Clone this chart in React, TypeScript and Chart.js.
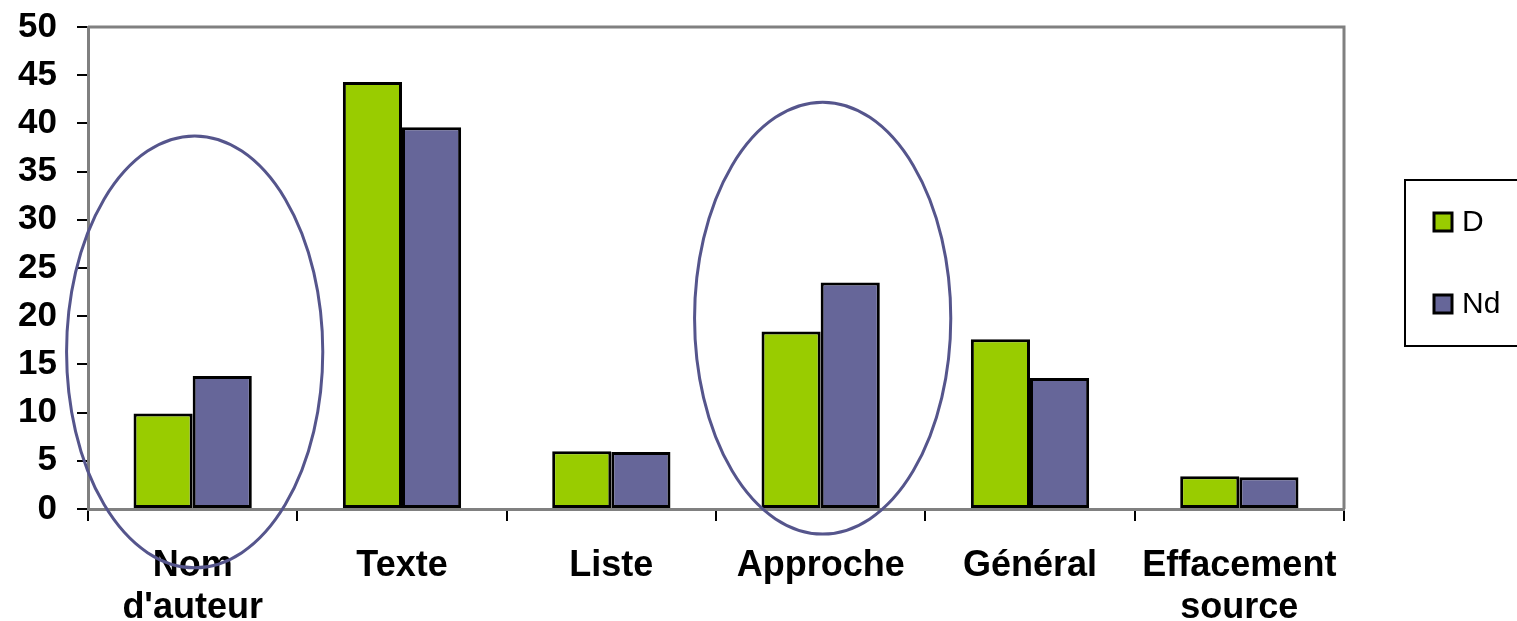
import React, { useEffect, useRef } from "react";
import { Chart, registerables } from "chart.js";

Chart.register(...registerables);

const categories: (string | string[])[] = [
  ["Nom", "d'auteur"],
  "Texte",
  "Liste",
  "Approche",
  "Général",
  ["Effacement", "source"],
];
const seriesD = [9.9, 44.3, 6.0, 18.4, 17.6, 3.4];
const seriesNd = [13.8, 39.6, 5.9, 23.5, 13.6, 3.3];
const seriesLabels = ["D", "Nd"];
const seriesColors = ["#99CC00", "#666699"];

// highlighted categories (ellipses): category index, centre value, vertical radius (value units)
const highlightIndex = [0, 3];
const highlightCenter = [16.3, 19.8];
const highlightRadius = [22.4, 22.4];

const FONT = "'Liberation Sans', Arial, sans-serif";

const overlayPlugin = {
  id: "overlay",
  afterDraw(chart: any) {
    const { ctx, chartArea, scales } = chart;
    const x = scales.x;
    const y = scales.y;
    ctx.save();
    // top & right plot border
    ctx.strokeStyle = "#808080";
    ctx.lineWidth = 3;
    ctx.beginPath();
    ctx.moveTo(chartArea.left, chartArea.top);
    ctx.lineTo(chartArea.right, chartArea.top);
    ctx.lineTo(chartArea.right, chartArea.bottom);
    ctx.stroke();

    // ellipses
    const catW = (chartArea.right - chartArea.left) / categories.length;
    ctx.strokeStyle = "#55558C";
    ctx.lineWidth = 3;
    highlightIndex.forEach((ci, i) => {
      const cx = x.getPixelForValue(ci) + 2;
      const cy = y.getPixelForValue(highlightCenter[i]);
      const ry = Math.abs(y.getPixelForValue(0) - y.getPixelForValue(highlightRadius[i]));
      const rx = catW * 0.612;
      ctx.beginPath();
      ctx.ellipse(cx, cy, rx, ry, 0, 0, Math.PI * 2);
      ctx.stroke();
    });

    // legend
    const lx = chartArea.right + 61;
    const ly = 180;
    const lw = 130;
    const lh = 166;
    ctx.fillStyle = "#ffffff";
    ctx.fillRect(lx, ly, lw, lh);
    ctx.strokeStyle = "#000000";
    ctx.lineWidth = 2;
    ctx.strokeRect(lx, ly, lw, lh);
    const rows = [222, 304];
    seriesLabels.forEach((lab, i) => {
      const ry0 = rows[i];
      ctx.fillStyle = seriesColors[i];
      ctx.fillRect(lx + 29, ry0 - 9, 18, 18);
      ctx.strokeStyle = "#000";
      ctx.lineWidth = 3;
      ctx.strokeRect(lx + 29, ry0 - 9, 18, 18);
      ctx.fillStyle = "#000";
      ctx.font = `30px ${FONT}`;
      ctx.textBaseline = "middle";
      ctx.textAlign = "left";
      ctx.fillText(lab, lx + 57, ry0 + 1);
    });
    ctx.restore();
  },
};

export default function App() {
  const ref = useRef<HTMLCanvasElement | null>(null);
  useEffect(() => {
    if (!ref.current) return;
    const chart = new Chart(ref.current, {
      type: "bar",
      data: {
        labels: categories,
        datasets: [
          {
            label: seriesLabels[0],
            data: seriesD,
            backgroundColor: seriesColors[0],
            borderColor: "#000",
            borderWidth: 3,
            borderSkipped: false,
          },
          {
            label: seriesLabels[1],
            data: seriesNd,
            backgroundColor: seriesColors[1],
            borderColor: "#000",
            borderWidth: 3,
            borderSkipped: false,
          },
        ],
      },
      options: {
        responsive: false,
        animation: false,
        layout: { padding: { top: 27, right: 173, left: 0, bottom: 0 } },
        datasets: { bar: { barPercentage: 1, categoryPercentage: 0.565 } },
        plugins: { legend: { display: false }, tooltip: { enabled: false } },
        scales: {
          x: {
            grid: {
              display: true,
              drawOnChartArea: false,
              drawTicks: true,
              tickLength: 12,
              color: "#000",
              lineWidth: 2,
              offset: true,
            },
            border: { display: true, color: "#808080", width: 3 },
            ticks: {
              color: "#000",
              font: { family: FONT, size: 36, weight: "bold", lineHeight: 1.17 },
              padding: 24,
              maxRotation: 0,
              autoSkip: false,
            },
            afterFit(scale: any) {
              scale.height = 112;
              scale.paddingLeft = 0;
              scale.paddingRight = 0;
            },
          },
          y: {
            min: 0,
            max: 50,
            grid: {
              display: true,
              drawOnChartArea: false,
              drawTicks: true,
              tickLength: 11,
              color: "#000",
              lineWidth: 2,
            },
            border: { display: true, color: "#808080", width: 3 },
            ticks: {
              stepSize: 5,
              color: "#000",
              font: { family: FONT, size: 35, weight: "bold" },
              padding: 20,
            },
            afterFit(scale: any) {
              scale.width = 88;
              scale.paddingTop = 0;
              scale.paddingBottom = 0;
            },
          },
        },
      },
      plugins: [overlayPlugin],
    });
    return () => chart.destroy();
  }, []);
  return (
    <div style={{ position: "absolute", left: 0, top: 0, width: 1517, height: 621, background: "#fff" }}>
      <canvas ref={ref} width={1517} height={621} style={{ width: 1517, height: 621, display: "block" }} />
    </div>
  );
}
